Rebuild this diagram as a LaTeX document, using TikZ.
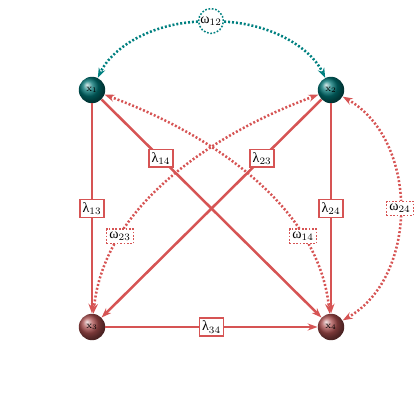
\documentclass[tikz,border=0pt]{standalone}
\usepackage{fontspec}
\newfontfamily\gk{Liberation Serif}
\usetikzlibrary{arrows.meta}
\definecolor{edgered}{RGB}{214,84,84}
\definecolor{tealdot}{RGB}{0,128,128}
\definecolor{ballteal}{RGB}{0,115,115}
\definecolor{ballred}{RGB}{170,78,78}
\begin{document}
\begin{tikzpicture}[x=0.025cm,y=-0.025cm,
  ballA/.style={circle,shade,ball color=ballteal,minimum size=0.66cm,inner sep=0pt,font=\scriptsize},
  ballB/.style={circle,shade,ball color=ballred,minimum size=0.66cm,inner sep=0pt,font=\scriptsize},
  sol/.style={draw=edgered,line width=1.8pt,-{Stealth[length=7pt,width=5pt]}},
  dotr/.style={draw=edgered,line width=1.8pt,dash pattern=on 1.4pt off 1.4pt,{Stealth[length=7pt,width=5pt]}-{Stealth[length=7pt,width=5pt]}},
  dott/.style={draw=tealdot,line width=1.8pt,dash pattern=on 1.4pt off 1.4pt,-{Stealth[length=7pt,width=5pt]}},
  lbox/.style={draw=edgered,line width=1.1pt,fill=white,inner sep=2pt,font=\normalsize},
  wbox/.style={draw=edgered,line width=1.1pt,dash pattern=on 1.2pt off 1.2pt,fill=white,inner sep=2pt,font=\normalsize},
  wcirc/.style={circle,draw=tealdot,line width=1.1pt,dash pattern=on 1.2pt off 1.2pt,fill=white,inner sep=0.3pt,minimum size=0.62cm,font=\normalsize}]
\useasboundingbox (0,0) rectangle (420,420);
\node[ballA] (x1) at (92,90) {$\mathrm{x}_1$};
\node[ballA] (x2) at (331,90) {$\mathrm{x}_2$};
\node[ballB] (x3) at (92,327) {$\mathrm{x}_3$};
\node[ballB] (x4) at (331,327) {$\mathrm{x}_4$};
\node[wcirc] (w12) at (211,21) {{\gk ω}$_{12}$};
% teal covariance
\draw[dott] (w12) .. controls (150,24) and (112,48) .. (x1);
\draw[dott] (w12) .. controls (272,24) and (311,48) .. (x2);
% red dotted covariances
\draw[dotr] (x1) .. controls (200,130) and (318,200) .. node[wbox,pos=0.75] {{\gk ω}$_{14}$} (x4);
\draw[dotr] (x2) .. controls (223,130) and (105,200) .. node[wbox,pos=0.75] {{\gk ω}$_{23}$} (x3);
\draw[dotr] (x2) .. controls (419,140) and (419,277) .. node[wbox,pos=0.5] {{\gk ω}$_{24}$} (x4);
% solid paths
\draw[sol] (x1) -- node[lbox] {{\gk λ}$_{13}$} (x3);
\draw[sol] (x2) -- node[lbox] {{\gk λ}$_{24}$} (x4);
\draw[sol] (x3) -- node[lbox] {{\gk λ}$_{34}$} (x4);
\draw[sol] (x1) -- node[lbox,pos=0.27] {{\gk λ}$_{14}$} (x4);
\draw[sol] (x2) -- node[lbox,pos=0.27] {{\gk λ}$_{23}$} (x3);
\end{tikzpicture}
\end{document}
